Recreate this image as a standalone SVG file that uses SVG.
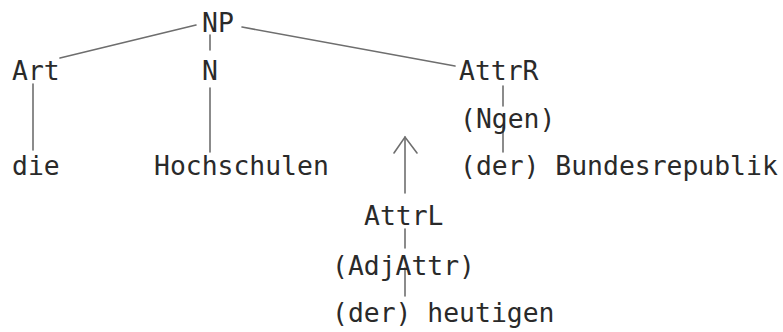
<svg xmlns="http://www.w3.org/2000/svg" width="783" height="332" viewBox="0 0 783 332">
<style>
text{font-family:"DejaVu Sans Mono","Liberation Mono",monospace;font-size:26.4px;fill:#2a2a2a}
.c line,.c path{stroke:#6e6e6e;stroke-width:1.6;fill:none;stroke-linecap:round}
</style>
<rect width="783" height="332" fill="#fff"/>
<g class="c" id="connectors">
<line x1="60" y1="58" x2="196" y2="25"/>
<line x1="242" y1="27" x2="455" y2="66"/>
<line x1="210" y1="35" x2="210" y2="50"/>
<line x1="210" y1="88" x2="210" y2="152"/>
<line x1="33" y1="84" x2="33" y2="150"/>
<line x1="503" y1="86" x2="503" y2="106"/>
<line x1="503" y1="127" x2="503" y2="152"/>
<line x1="405" y1="137" x2="405" y2="193"/>
<path d="M394,153 L405,137 L417,153"/>
<line x1="405" y1="229" x2="405" y2="248"/>
<line x1="405" y1="268" x2="405" y2="296"/>
</g>
<g id="NP"><text x="202" y="32">NP</text></g>
<g id="Art"><text x="12" y="80">Art</text></g>
<g id="N"><text x="202" y="80">N</text></g>
<g id="AttrR"><text x="459" y="80">AttrR</text></g>
<g id="Ngen"><text x="460" y="128">(Ngen)</text></g>
<g id="die"><text x="12" y="175">die</text></g>
<g id="Hochschulen"><text x="154" y="175">Hochschulen</text></g>
<g id="Bundesrepublik"><text x="460" y="175">(der) Bundesrepublik</text></g>
<g id="AttrL"><text x="364" y="225">AttrL</text></g>
<g id="AdjAttr"><text x="332" y="275">(AdjAttr)</text></g>
<g id="heutigen"><text x="332" y="322">(der) heutigen</text></g>
</svg>
